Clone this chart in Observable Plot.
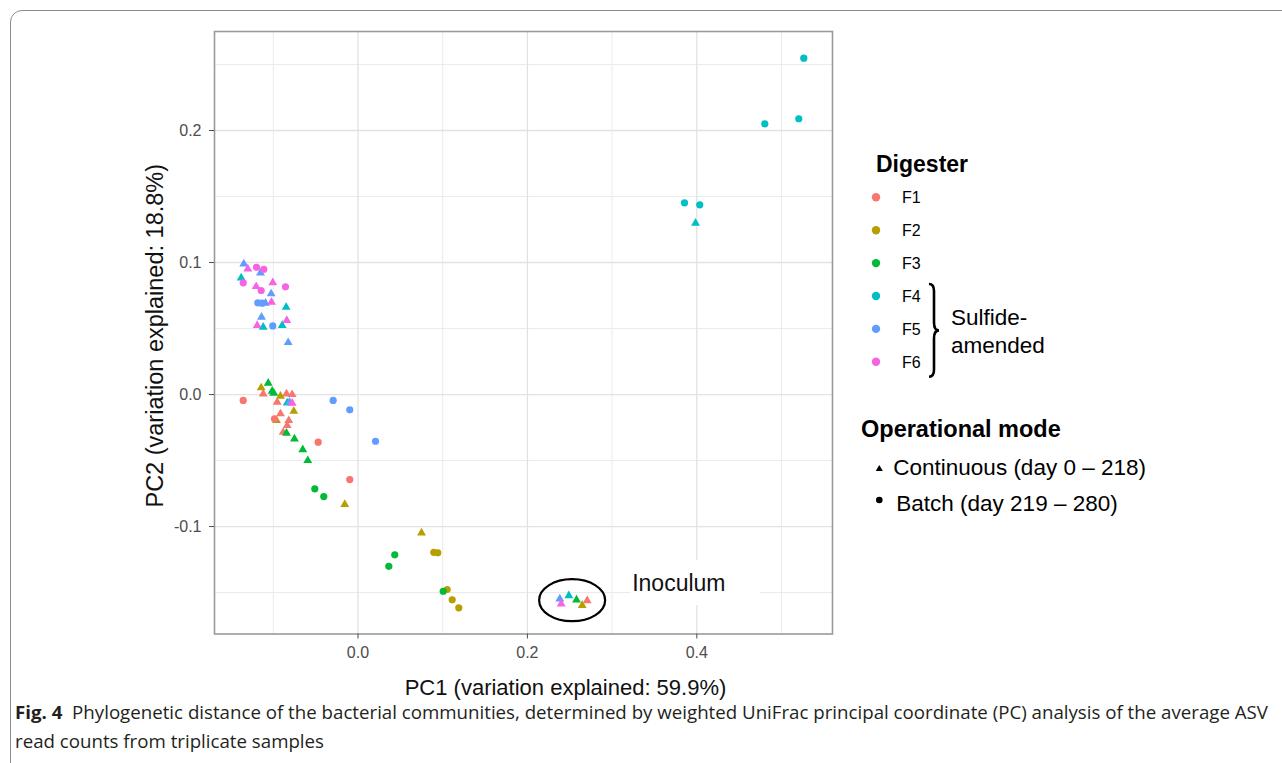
<!DOCTYPE html>
<html><head><meta charset="utf-8">
<script src="https://cdn.jsdelivr.net/npm/d3@7"></script>
<script src="https://cdn.jsdelivr.net/npm/@observablehq/plot@0.6"></script>
<style>
html,body{margin:0;padding:0;background:#fff;}
body{width:1282px;height:763px;position:relative;overflow:hidden;font-family:"Liberation Sans",Arial,sans-serif;}
#frame{position:absolute;left:10px;top:10px;width:1300px;height:800px;border:1.5px solid #8c8c8c;border-top-left-radius:12px;box-sizing:border-box;}
#chart{position:absolute;left:0;top:0;}
#legend{position:absolute;left:0;top:0;}
#caption{position:absolute;left:15px;top:697px;font-family:"Open Sans",sans-serif;font-size:18.5px;color:#231f20;line-height:29px;white-space:nowrap;transform-origin:left top;}
#caption b{font-weight:700;}
</style></head><body>
<div id="frame"></div>
<div id="chart"></div>
<svg id="legend" width="1282" height="700"></svg>
<div id="caption"><span id="cap1"><b>Fig. 4</b>&nbsp; Phylogenetic distance of the bacterial communities, determined by weighted UniFrac principal coordinate (PC) analysis of the average ASV</span><br><span>read counts from triplicate samples</span></div>
<script>
// ---- data ----
const digesters = ["F1", "F2", "F3", "F4", "F5", "F6"];
const digesterColors = ["#F8766D", "#B79F00", "#00BA38", "#00BFC4", "#619CFF", "#F564E3"];
const modes = ["Continuous", "Batch"];
const modeLabels = ["Continuous (day 0 \u2013 218)", "Batch (day 219 \u2013 280)"];
const sulfideAmended = ["F4", "F5", "F6"];

// [mode, PC1, PC2]  C = Continuous, B = Batch
const F1 = [
  ["C", -0.1119, 0.0005], ["C", -0.0844, 0.0005], ["C", -0.0777, 0.0000], ["C", -0.0954, -0.0058],
  ["C", -0.0915, -0.0146], ["C", -0.0817, -0.0197], ["C", -0.0836, -0.0235], ["C", -0.0883, -0.0286],
  ["C", 0.2706, -0.1561],
  ["B", -0.1355, -0.0045], ["B", -0.0986, -0.0184], ["B", -0.0470, -0.0361], ["B", -0.0097, -0.0644]
];
const F2 = [
  ["C", -0.1143, 0.0051], ["C", -0.0915, -0.0013], ["C", -0.0758, -0.0127], ["C", -0.0962, -0.0197],
  ["C", -0.0156, -0.0833], ["C", 0.0750, -0.1048], ["C", 0.2647, -0.1598],
  ["B", 0.0895, -0.1195], ["B", 0.0942, -0.1199], ["B", 0.1053, -0.1477], ["B", 0.1112, -0.1555], ["B", 0.1190, -0.1616]
];
const F3 = [
  ["C", -0.1060, 0.0086], ["C", -0.1013, 0.0025], ["C", -0.0994, 0.0010], ["C", -0.0844, -0.0293],
  ["C", -0.0750, -0.0336], ["C", -0.0652, -0.0417], ["C", -0.0593, -0.0500], ["C", 0.2580, -0.1555],
  ["B", -0.0510, -0.0714], ["B", -0.0404, -0.0773], ["B", 0.0434, -0.1214], ["B", 0.0364, -0.1301], ["B", 0.1006, -0.1490]
];
const F4 = [
  ["C", -0.1379, 0.0884], ["C", -0.0848, 0.0661], ["C", -0.1119, 0.0510], ["C", -0.0895, 0.0523],
  ["C", -0.0836, -0.0063], ["C", 0.3985, 0.1298], ["C", 0.2489, -0.1523],
  ["B", 0.5263, 0.2548], ["B", 0.5204, 0.2089], ["B", 0.4803, 0.2051], ["B", 0.3855, 0.1452], ["B", 0.4035, 0.1437]
];
const F5 = [
  ["C", -0.1348, 0.0990], ["C", -0.1151, 0.0922], ["C", -0.1025, 0.0763], ["C", -0.1092, 0.0692],
  ["C", -0.1139, 0.0586], ["C", -0.0824, 0.0394], ["C", -0.0809, -0.0058], ["C", 0.2383, -0.1548],
  ["B", -0.1183, 0.0695], ["B", -0.1131, 0.0692], ["B", -0.1006, 0.0520], ["B", -0.0293, -0.0045],
  ["B", -0.0097, -0.0116], ["B", 0.0207, -0.0354]
];
const F6 = [
  ["C", -0.1301, 0.0952], ["C", -0.1006, 0.0848], ["C", -0.1202, 0.0818], ["C", -0.1021, 0.0699],
  ["C", -0.0841, 0.0561], ["C", -0.1190, 0.0523], ["C", -0.0777, -0.0066], ["C", 0.2399, -0.1586],
  ["B", -0.1198, 0.0964], ["B", -0.1112, 0.0949], ["B", -0.1355, 0.0846], ["B", -0.0856, 0.0816], ["B", -0.1143, 0.0788]
];

const xTicks = [0, 0.2, 0.4];
const xMinor = [-0.1, 0.1, 0.3, 0.5];
const yTicks = [-0.1, 0, 0.1, 0.2];
const yMinor = [-0.15, -0.05, 0.05, 0.15, 0.25];
const xTitle = "PC1 (variation explained: 59.9%)";
const yTitle = "PC2 (variation explained: 18.8%)";
const inoculumLabel = [{text: "Inoculum", x: 0.3237, y: -0.1432, x1: 0.322, x2: 0.475, y1: -0.1258, y2: -0.1598}];

// ---- build table ----
const groups = [F1, F2, F3, F4, F5, F6];
const samples = [];
groups.forEach((g, i) => g.forEach(([m, a, b]) => samples.push({digester: digesters[i], mode: m === "C" ? "Continuous" : "Batch", pc1: a, pc2: b})));
const inoc = samples.filter(d => d.pc1 > 0.2 && d.pc2 < -0.14);
const inocCenter = {x: d3.mean(inoc, d => d.pc1), y: d3.mean(inoc, d => d.pc2)};

const fmt = d => d.toFixed(1);

const plot = Plot.plot({
  width: 1282, height: 700,
  marginLeft: 214, marginRight: 450, marginTop: 31, marginBottom: 66.5,
  x: {domain: [-0.1694, 0.5602]},
  y: {domain: [-0.1814, 0.275]},
  color: {domain: digesters, range: digesterColors},
  symbol: {domain: modes, range: ["triangle", "circle"]},
  style: {fontFamily: "'Liberation Sans', Arial, sans-serif", background: "transparent", overflow: "visible"},
  marks: [
    Plot.gridX(xMinor, {stroke: "#ebebeb", strokeOpacity: 1, strokeWidth: 1}),
    Plot.gridY(yMinor, {stroke: "#ebebeb", strokeOpacity: 1, strokeWidth: 1}),
    Plot.gridX(xTicks, {stroke: "#e2e2e2", strokeOpacity: 1, strokeWidth: 1.3}),
    Plot.gridY(yTicks, {stroke: "#e2e2e2", strokeOpacity: 1, strokeWidth: 1.3}),
    Plot.rect(inoculumLabel, {x1: "x1", x2: "x2", y1: "y1", y2: "y2", fill: "white"}),
    Plot.text(inoculumLabel, {x: "x", y: "y", text: "text", textAnchor: "start", fontSize: 23, fill: "#111"}),
    Plot.frame({stroke: "#9a9a9a", strokeWidth: 1.6}),
    Plot.axisX(xTicks, {tickSize: 5, tickPadding: 8, tickFormat: fmt, fontSize: 16, color: "#4d4d4d", label: null}),
    Plot.axisY(yTicks, {tickSize: 5, tickPadding: 8, tickFormat: fmt, fontSize: 16, color: "#4d4d4d", label: null}),
    Plot.text([xTitle], {frameAnchor: "bottom", dy: 53.5, dx: 42, lineAnchor: "middle", textAnchor: "middle", text: d => d, fontSize: 22, fill: "#111"}),
    Plot.text([yTitle], {frameAnchor: "left", dx: -59, dy: 3, rotate: -90, lineAnchor: "middle", textAnchor: "middle", text: d => d, fontSize: 23.5, fill: "#111"}),
    Plot.dot(samples.filter(d => d.mode === "Continuous"), {x: "pc1", y: "pc2", fill: "digester", symbol: "mode", r: 3.3}),
    Plot.dot(samples.filter(d => d.mode === "Batch"), {x: "pc1", y: "pc2", fill: "digester", symbol: "mode", r: 3.6})
  ]
});
document.getElementById("chart").appendChild(plot);

// ellipse around inoculum samples, positioned through the plot scales
const sx = plot.scale("x"), sy = plot.scale("y");
d3.select(plot).append("ellipse")
  .attr("cx", sx.apply(inocCenter.x)).attr("cy", sy.apply(inocCenter.y))
  .attr("rx", 33).attr("ry", 21)
  .attr("fill", "none").attr("stroke", "#000").attr("stroke-width", 2.2);

// ---- legend ----
const lg = d3.select("#legend");
lg.append("text").attr("x", 876).attr("y", 172).attr("font-size", 23).attr("font-weight", "bold").attr("fill", "#000").text("Digester");
const items = lg.selectAll("g.item").data(digesters).join("g").attr("class", "item")
  .attr("transform", (d, i) => `translate(876,${197.3 + 32.9 * i})`);
items.append("circle").attr("r", 4.2).attr("fill", (d, i) => digesterColors[i]);
items.append("text").attr("x", 26).attr("dy", "0.36em").attr("font-size", 16).attr("fill", "#000").text(d => d);
// brace for sulfide-amended digesters
const bTop = 197.3 + 32.9 * digesters.indexOf(sulfideAmended[0]) - 12;
const bBot = 197.3 + 32.9 * digesters.indexOf(sulfideAmended[sulfideAmended.length - 1]) + 15;
const bMid = (bTop + bBot) / 2;
lg.append("path").attr("fill", "none").attr("stroke", "#000").attr("stroke-width", 2.6)
  .attr("d", `M929,${bTop} Q934,${bTop} 934,${bTop + 7} L934,${bMid - 8} Q934,${bMid} 939,${bMid} Q934,${bMid} 934,${bMid + 8} L934,${bBot - 7} Q934,${bBot} 929,${bBot}`);
lg.append("text").attr("x", 951).attr("y", 325).attr("font-size", 22.5).attr("fill", "#000").text("Sulfide-");
lg.append("text").attr("x", 951).attr("y", 353).attr("font-size", 22.5).attr("fill", "#000").text("amended");

lg.append("text").attr("x", 861).attr("y", 437).attr("font-size", 23.5).attr("font-weight", "bold").attr("fill", "#000").text("Operational mode");
const mItems = lg.selectAll("g.mode").data(modes).join("g").attr("class", "mode")
  .attr("transform", (d, i) => `translate(879.3,${469 + 31 * i})`);
mItems.append("path").attr("fill", "#000")
  .attr("d", (d, i) => d3.symbol(i === 0 ? d3.symbolTriangle : d3.symbolCircle, i === 0 ? 22 : 34)());
mItems.append("text").attr("x", (d, i) => i === 0 ? 14 : 17).attr("y", (d, i) => i === 0 ? 6 : 11)
  .attr("font-size", 22.5).attr("fill", "#000").text((d, i) => modeLabels[i]);

// ---- caption width fit ----
const cap = document.getElementById("caption");
const w = document.getElementById("cap1").getBoundingClientRect().width;
cap.style.transform = `scaleX(${1253 / w})`;
</script>
</body></html>
